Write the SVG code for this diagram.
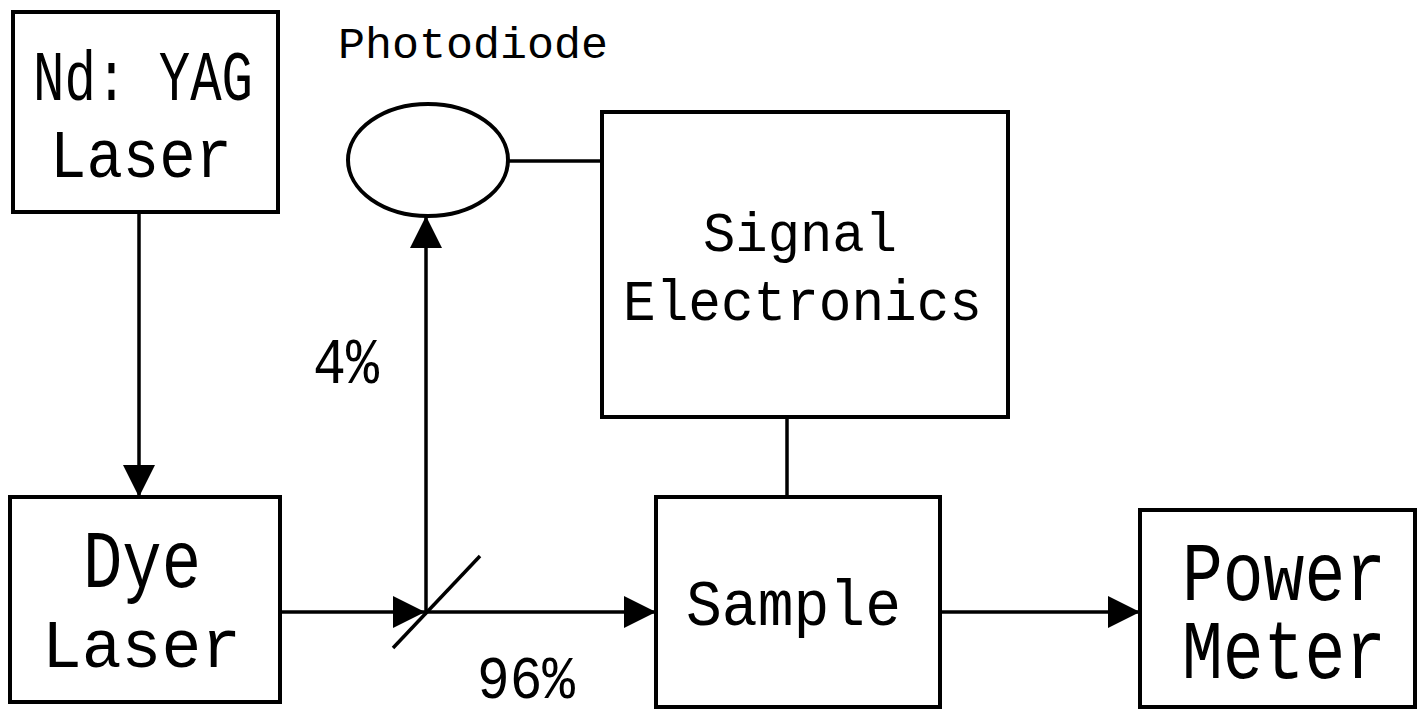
<svg xmlns="http://www.w3.org/2000/svg" width="1421" height="711" viewBox="0 0 1421 711">
<defs>
<marker id="ah" markerUnits="userSpaceOnUse" markerWidth="34" markerHeight="34" refX="32" refY="16" orient="auto">
<path d="M0,0 L32,16 L0,32 Z" fill="#000"/>
</marker>
<style>
.box{fill:#fff;stroke:#000;stroke-width:4}
.ln{fill:none;stroke:#000;stroke-width:3.5}
.el{fill:#fff;stroke:#000;stroke-width:4}
.t{font-family:"Liberation Mono","DejaVu Sans Mono",monospace;fill:#000}
</style>
</defs>
<rect width="1421" height="711" fill="#fff"/>
<g id="connectors">
<line class="ln" x1="139" y1="212" x2="139" y2="497" marker-end="url(#ah)"/>
<line class="ln" x1="280" y1="612" x2="425" y2="612" marker-end="url(#ah)"/>
<line class="ln" x1="425" y1="612" x2="656" y2="612" marker-end="url(#ah)"/>
<line class="ln" x1="426" y1="612" x2="426" y2="216" marker-end="url(#ah)"/>
<line class="ln" x1="509" y1="161" x2="602" y2="161"/>
<line class="ln" x1="787" y1="417" x2="787" y2="497"/>
<line class="ln" x1="940" y1="612" x2="1140" y2="612" marker-end="url(#ah)"/>
<line class="ln" x1="393" y1="648" x2="480" y2="556"/>
<text class="t" x="313" y="383" font-size="65" textLength="66" lengthAdjust="spacingAndGlyphs">4%</text>
<text class="t" x="477" y="698" font-size="62" textLength="98" lengthAdjust="spacingAndGlyphs">96%</text>
</g>
<g id="ndyag">
<rect class="box" x="13" y="12" width="265" height="200"/>
<text class="t" x="33" y="100" font-size="71" textLength="220" lengthAdjust="spacingAndGlyphs">Nd: YAG</text>
<text class="t" x="50" y="177" font-size="68" textLength="182" lengthAdjust="spacingAndGlyphs">Laser</text>
</g>
<g id="photodiode">
<ellipse class="el" cx="428" cy="160" rx="80" ry="56"/>
<text class="t" x="338" y="58" font-size="45" textLength="270" lengthAdjust="spacingAndGlyphs">Photodiode</text>
</g>
<g id="signal">
<rect class="box" x="602" y="112" width="406" height="305"/>
<text class="t" x="703" y="251" font-size="56" textLength="194" lengthAdjust="spacingAndGlyphs">Signal</text>
<text class="t" x="623" y="320" font-size="57" textLength="359" lengthAdjust="spacingAndGlyphs">Electronics</text>
</g>
<g id="dye">
<rect class="box" x="10" y="497" width="270" height="205"/>
<text class="t" x="83" y="587" font-size="82" textLength="118" lengthAdjust="spacingAndGlyphs">Dye</text>
<text class="t" x="42" y="667" font-size="68" textLength="199" lengthAdjust="spacingAndGlyphs">Laser</text>
</g>
<g id="sample">
<rect class="box" x="656" y="497" width="284" height="210"/>
<text class="t" x="686" y="625" font-size="64" textLength="215" lengthAdjust="spacingAndGlyphs">Sample</text>
</g>
<g id="power">
<rect class="box" x="1140" y="510" width="275" height="197"/>
<text class="t" x="1182" y="600" font-size="83" textLength="204" lengthAdjust="spacingAndGlyphs">Power</text>
<text class="t" x="1182" y="678" font-size="83" textLength="204" lengthAdjust="spacingAndGlyphs">Meter</text>
</g>
</svg>
